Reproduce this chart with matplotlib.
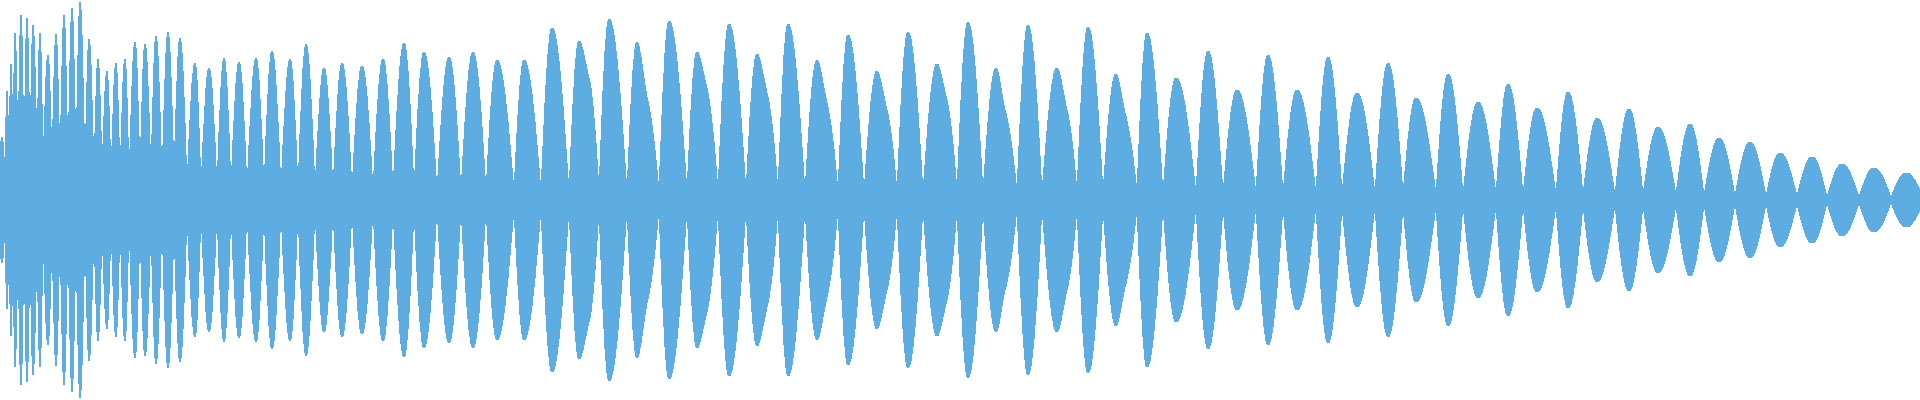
import numpy as np
import matplotlib
matplotlib.use("Agg")
import matplotlib.pyplot as plt
from matplotlib.path import Path
from matplotlib.patches import PathPatch

# waveform envelope (x in samples, amplitude mirrored around 0)
peak_x = [2, 7, 11, 15, 21, 27, 33, 40, 48, 56, 64, 72, 80, 89, 98, 107, 116,
          125, 135, 145, 156, 168, 180, 195, 209, 224, 239,
          256, 272, 290, 306, 324, 342, 362, 383, 404, 424, 449, 473, 497, 524,
          552, 579, 609, 637, 669, 697, 729, 757, 788, 817,
          848, 877, 908, 937, 968, 996, 1028, 1057, 1088, 1116,
          1147, 1176, 1208, 1237, 1268, 1297, 1328, 1357, 1388, 1416,
          1448, 1478, 1508, 1537, 1568, 1597, 1629, 1658,
          1690, 1719, 1750, 1780, 1812, 1842, 1874, 1906]
peak_amp = [63, 109, 136, 167, 185, 182, 175, 167, 145, 166, 185, 192, 198, 161, 141, 129, 137,
            141, 158, 156, 164, 168, 162, 137, 132, 142, 138,
            142, 149, 141, 156, 132, 137, 134, 141, 157, 148, 143, 148, 140, 140,
            172, 159, 181, 158, 179, 148, 176, 146, 176, 140,
            165, 129, 168, 136, 178, 132, 175, 132, 173, 126,
            167, 122, 149, 110, 145, 110, 143, 107, 137, 102,
            126, 98, 116, 92, 108, 82, 91, 73,
            76, 62, 58, 47, 43, 36, 32, 27]

trough_x = [0, 5, 9, 13, 18, 24, 30, 37, 43, 52, 60, 68, 76, 85, 94, 102, 111,
            120, 129, 140, 151, 162, 174, 187, 201, 217, 231, 247,
            264, 281, 298, 315, 333, 352, 373, 393, 414, 437, 461, 486, 514, 541,
            569, 599, 627, 659, 687, 718, 746, 778, 805, 838,
            864, 897, 923, 957, 983, 1017, 1042, 1077, 1103, 1137,
            1163, 1196, 1223, 1256, 1283, 1316, 1342, 1375, 1403, 1436,
            1463, 1496, 1523, 1556, 1583, 1615, 1643, 1676,
            1704, 1735, 1766, 1797, 1827, 1859, 1891, 1920]
trough_amp = [50, 23, 30, 37, 35, 27, 36, 38, 26, 26, 20, 20, 25, 21, 19, 22, 16,
              15, 13, 20, 20, 14, 22, 11, 9, 10, 9, 8,
              8, 8, 8, 8, 8, 8, 8, 8, 8, 7, 7, 7, 7, 7,
              6, 6, 6, 6, 6, 6, 6, 6, 6, 6,
              6, 6, 6, 6, 6, 6, 6, 6, 6, 6,
              5, 5, 5, 5, 5, 5, 5, 5, 5, 5,
              4, 4, 4, 4, 4, 4, 4, 4,
              3, 3, 3, 3, 2, 2, 2, 10]

# kinks on the falling side of the smaller lobes in the middle
shoulder_peak = [579, 637, 697, 757, 817, 877, 937, 996, 1057, 1116]
shoulder_x = [590, 647, 707, 768, 827, 887, 947, 1005, 1067, 1125]
shoulder_amp = [118, 103, 112, 103, 97, 90, 100, 90, 90, 87]

color = "#5dade2"


def envelope(sign):
    # sine-like bezier lobes: trough -> peak -> (shoulder) -> trough
    verts = [(trough_x[0], sign * trough_amp[0])]
    codes = [Path.MOVETO]
    for i in range(len(peak_x)):
        x0, y0 = trough_x[i], trough_amp[i]
        xp, a = peak_x[i], peak_amp[i]
        x1, y1 = trough_x[i + 1], trough_amp[i + 1]
        dx = xp - x0
        verts += [(x0 + 0.333 * dx, sign * (y0 + 0.523 * (a - y0))),
                  (x0 + 0.64 * dx, sign * a), (xp, sign * a)]
        codes += [Path.CURVE4] * 3
        if xp in shoulder_peak:
            j = shoulder_peak.index(xp)
            xs, ys = shoulder_x[j], shoulder_amp[j]
            dx = xs - xp
            verts += [(xp + 0.3 * dx, sign * a),
                      (xs - 0.3 * dx, sign * (ys + 0.25 * (a - ys))), (xs, sign * ys)]
            dx = x1 - xs
            verts += [(xs + 0.3 * dx, sign * (ys - 0.15 * (ys - y1))),
                      (x1 - 0.333 * dx, sign * (y1 + 0.523 * (ys - y1))), (x1, sign * y1)]
            codes += [Path.CURVE4] * 6
        else:
            dx = x1 - xp
            verts += [(xp + 0.36 * dx, sign * a),
                      (x1 - 0.333 * dx, sign * (y1 + 0.523 * (a - y1))), (x1, sign * y1)]
            codes += [Path.CURVE4] * 3
    return verts, codes


top_v, top_c = envelope(1)
bot_v, bot_c = envelope(-1)
# walk the bottom half backwards to close the shape
bot_v = bot_v[::-1]
verts = top_v + bot_v + [top_v[0]]
codes = top_c + [Path.LINETO] + [Path.CURVE4] * (len(bot_v) - 1) + [Path.CLOSEPOLY]

fig = plt.figure(figsize=(19.2, 4), dpi=100)
ax = fig.add_axes([0, 0, 1, 1])
ax.add_patch(PathPatch(Path(verts, codes), facecolor=color, edgecolor="none",
                       antialiased=False))
ax.set_xlim(0, 1920)
ax.set_ylim(-200, 200)
ax.axis("off")
fig.savefig("out.png", dpi=100)
